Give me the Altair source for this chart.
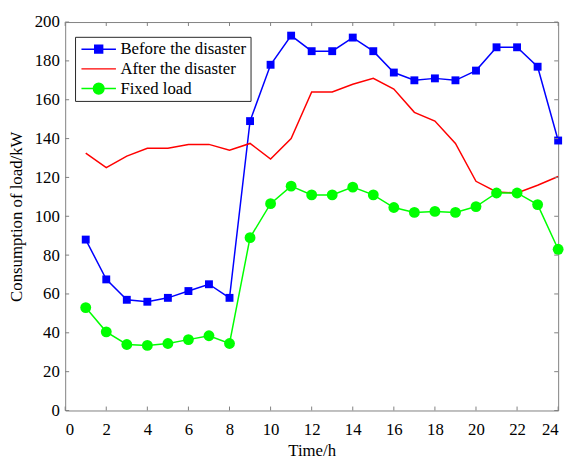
import altair as alt
import pandas as pd

hours = list(range(1, 25))
before = [88, 67.5, 57, 56, 58, 61.5, 65, 58, 149, 178, 193, 185, 185, 192, 185,
          174, 170, 171, 170, 175, 187, 187, 177, 139]
after = [132.5, 125, 131, 135, 135, 137, 137, 134, 137.5, 129.5, 140, 164, 164, 168,
         171, 165.5, 153.5, 149, 137.5, 118, 112.5, 112, 116, 120.5]
fixed = [53, 40.5, 34, 33.5, 34.5, 36.5, 38.5, 34.5, 89, 106.5, 115.5, 111, 111, 115,
         111, 104.5, 102, 102.5, 102, 105, 112, 112, 106, 83]
series = ["Before the disaster", "After the disaster", "Fixed load"]
colors = ["#0000ff", "#ff0000", "#00ff00"]
x_ticks = list(range(0, 25, 2))
y_ticks = list(range(0, 201, 20))

rows = []
for name, vals in zip(series, [before, after, fixed]):
    for h, v in zip(hours, vals):
        rows.append({"hour": h, "load": v, "series": name})
df = pd.DataFrame(rows)
xt = pd.DataFrame({"t": x_ticks})
yt = pd.DataFrame({"t": y_ticks})

W, H = 500, 394
FONT = "Liberation Serif"
FS = 17
GRAY = "#808080"

xscale = alt.Scale(domain=[0, 24], nice=False, zero=False)
yscale = alt.Scale(domain=[0, 200], nice=False)
xaxis = alt.Axis(values=x_ticks, ticks=False, domain=False, grid=False,
                 labelPadding=11, labelOverlap=False, title="Time/h", titlePadding=6)
yaxis = alt.Axis(values=y_ticks, ticks=False, domain=False, grid=False,
                 labelPadding=6, labelOverlap=False,
                 title="Consumption of load/kW", titlePadding=9)

ln_path = "M-1,0H4.83"
sq_path = ln_path + "M1.25,-0.67H2.58V0.67H1.25Z"
ci_path = ln_path + "M2.815,0A0.9,0.9,0,1,1,1.015,0A0.9,0.9,0,1,1,2.815,0Z"
shape_sig = ("datum.value === 'Before the disaster' ? '%s' : datum.value === 'Fixed load' ? '%s' : '%s'"
             % (sq_path, ci_path, ln_path))
fill_sig = ("datum.value === 'Before the disaster' ? '#0000ff' : datum.value === 'Fixed load' ? '#00ff00' : 'transparent'")

legend = alt.Legend(
    title=None, orient="none", legendX=10, legendY=15,
    fillColor="white", strokeColor="#262626", padding=4, rowPadding=2,
    labelFont=FONT, labelFontSize=FS, labelColor="black", labelOffset=25,
    symbolSize=144, symbolStrokeWidth=1.5,
    symbolType={"expr": shape_sig},
    symbolFillColor={"expr": fill_sig},
)

X = lambda f: alt.X(f, scale=xscale, axis=xaxis)
Y = lambda f: alt.Y(f, scale=yscale, axis=yaxis)

lines = alt.Chart(df).mark_line(strokeWidth=1.5).encode(
    x=X("hour:Q"), y=Y("load:Q"),
    color=alt.Color("series:N", scale=alt.Scale(domain=series, range=colors),
                    sort=series, legend=legend),
)

sq = alt.Chart(df).transform_filter(alt.datum.series == series[0]).mark_square(
    size=64, color=colors[0], opacity=1).encode(x=X("hour:Q"), y=Y("load:Q"))
ci = alt.Chart(df).transform_filter(alt.datum.series == series[2]).mark_circle(
    size=121, color=colors[2], opacity=1).encode(x=X("hour:Q"), y=Y("load:Q"))

tb = alt.Chart(xt).mark_rule(color=GRAY).encode(
    x=X("t:Q"), y=alt.value(H), y2=alt.value(H - 4))
tt = alt.Chart(xt).mark_rule(color=GRAY).encode(
    x=X("t:Q"), y=alt.value(0), y2=alt.value(4))
tl = alt.Chart(yt).mark_rule(color=GRAY).encode(
    y=Y("t:Q"), x=alt.value(0), x2=alt.value(4))
tr = alt.Chart(yt).mark_rule(color=GRAY).encode(
    y=Y("t:Q"), x=alt.value(W), x2=alt.value(W - 4))

chart = alt.layer(lines, sq, ci, tb, tt, tl, tr).properties(
    width=W, height=H,
    autosize=alt.AutoSizeParams(type="none"),
    padding={"left": 58, "top": 11, "right": 11, "bottom": 50},
    background="white",
).configure_view(stroke=GRAY, strokeWidth=1).configure_axis(
    labelFont=FONT, labelFontSize=FS, labelColor="black",
    titleFont=FONT, titleFontSize=FS, titleColor="black", titleFontWeight="normal",
)

chart.save("out.html", embed_options={"renderer": "svg", "actions": False})
